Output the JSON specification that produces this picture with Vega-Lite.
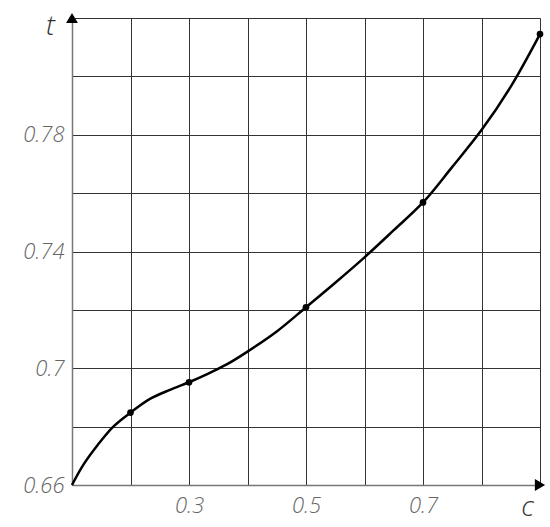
{
  "$schema": "https://vega.github.io/schema/vega-lite/v6.json",
  "width": 468,
  "height": 467,
  "autosize": {"type": "none"},
  "padding": {"left": 72, "top": 18, "right": 10, "bottom": 42},
  "background": "white",
  "config": {
    "view": {"stroke": null},
    "axis": {
      "grid": true,
      "gridColor": "#333333",
      "gridWidth": 1,
      "gridOpacity": 1,
      "ticks": false,
      "domainColor": "#777777",
      "domainWidth": 1.5,
      "labelFont": "Open Sans",
      "labelFontStyle": "italic",
      "labelFontWeight": 300,
      "labelFontSize": 22,
      "labelColor": "#666666",
      "titleFont": "Open Sans",
      "titleFontStyle": "italic",
      "titleFontWeight": 300,
      "titleFontSize": 28,
      "titleColor": "#333333"
    }
  },
  "datasets": {
    "curve": [
      {"c": 0.1, "t": 0.66, "dot": false},
      {"c": 0.1193, "t": 0.6669, "dot": false},
      {"c": 0.1439, "t": 0.6737, "dot": false},
      {"c": 0.1706, "t": 0.68, "dot": false},
      {"c": 0.2, "t": 0.6848, "dot": true},
      {"c": 0.2333, "t": 0.6895, "dot": false},
      {"c": 0.2675, "t": 0.6926, "dot": false},
      {"c": 0.3, "t": 0.6952, "dot": true},
      {"c": 0.3302, "t": 0.6979, "dot": false},
      {"c": 0.3644, "t": 0.7013, "dot": false},
      {"c": 0.4, "t": 0.7057, "dot": false},
      {"c": 0.45, "t": 0.7126, "dot": false},
      {"c": 0.5, "t": 0.7209, "dot": true},
      {"c": 0.55, "t": 0.7293, "dot": false},
      {"c": 0.6, "t": 0.738, "dot": false},
      {"c": 0.65, "t": 0.7473, "dot": false},
      {"c": 0.7, "t": 0.7568, "dot": true},
      {"c": 0.75, "t": 0.769, "dot": false},
      {"c": 0.8, "t": 0.7816, "dot": false},
      {"c": 0.85, "t": 0.7965, "dot": false},
      {"c": 0.9, "t": 0.8145, "dot": true}
    ],
    "arrows": [
      {"c": 0.1, "t": 0.82, "shape": "triangle-up", "dx": 0, "dy": 6},
      {"c": 0.9, "t": 0.66, "shape": "triangle-right", "dx": -6, "dy": 0}
    ]
  },
  "layer": [
    {
      "data": {"name": "curve"},
      "mark": {"type": "line", "color": "black", "strokeWidth": 2.5, "interpolate": "catmull-rom"},
      "encoding": {
        "x": {
          "field": "c", "type": "quantitative",
          "scale": {"domain": [0.1, 0.9], "nice": false, "zero": false},
          "axis": {
            "values": [0.1, 0.2, 0.3, 0.4, 0.5, 0.6, 0.7, 0.8, 0.9],
            "labelExpr": "indexof(['0.3','0.5','0.7'], format(datum.value,'.1f')) >= 0 ? format(datum.value,'.1f') : ''",
            "labelPadding": 10,
            "title": "c",
            "titleX": 455,
            "titleY": 30,
            "titleBaseline": "alphabetic",
            "titleAngle": 0
          }
        },
        "y": {
          "field": "t", "type": "quantitative",
          "scale": {"domain": [0.66, 0.82], "nice": false, "zero": false},
          "axis": {
            "values": [0.66, 0.68, 0.7, 0.72, 0.74, 0.76, 0.78, 0.8, 0.82],
            "labelExpr": "(datum.value < 0.81 && round(datum.value*100) % 4 == 2) ? format(datum.value,'~g') : ''",
            "labelPadding": 8,
            "title": "t",
            "titleAngle": 0,
            "titleX": -22,
            "titleY": 16,
            "titleAlign": "center",
            "titleBaseline": "alphabetic"
          }
        }
      }
    },
    {
      "data": {"name": "curve"},
      "transform": [{"filter": "datum.dot"}],
      "mark": {"type": "point", "filled": true, "color": "black", "size": 45, "opacity": 1},
      "encoding": {
        "x": {"field": "c", "type": "quantitative"},
        "y": {"field": "t", "type": "quantitative"}
      }
    },
    {
      "data": {"name": "arrows"},
      "mark": {"type": "point", "filled": true, "color": "black", "size": 140, "opacity": 1},
      "encoding": {
        "x": {"field": "c", "type": "quantitative"},
        "y": {"field": "t", "type": "quantitative"},
        "shape": {"field": "shape", "type": "nominal", "scale": null},
        "xOffset": {"field": "dx", "type": "quantitative", "scale": null},
        "yOffset": {"field": "dy", "type": "quantitative", "scale": null}
      }
    }
  ]
}
